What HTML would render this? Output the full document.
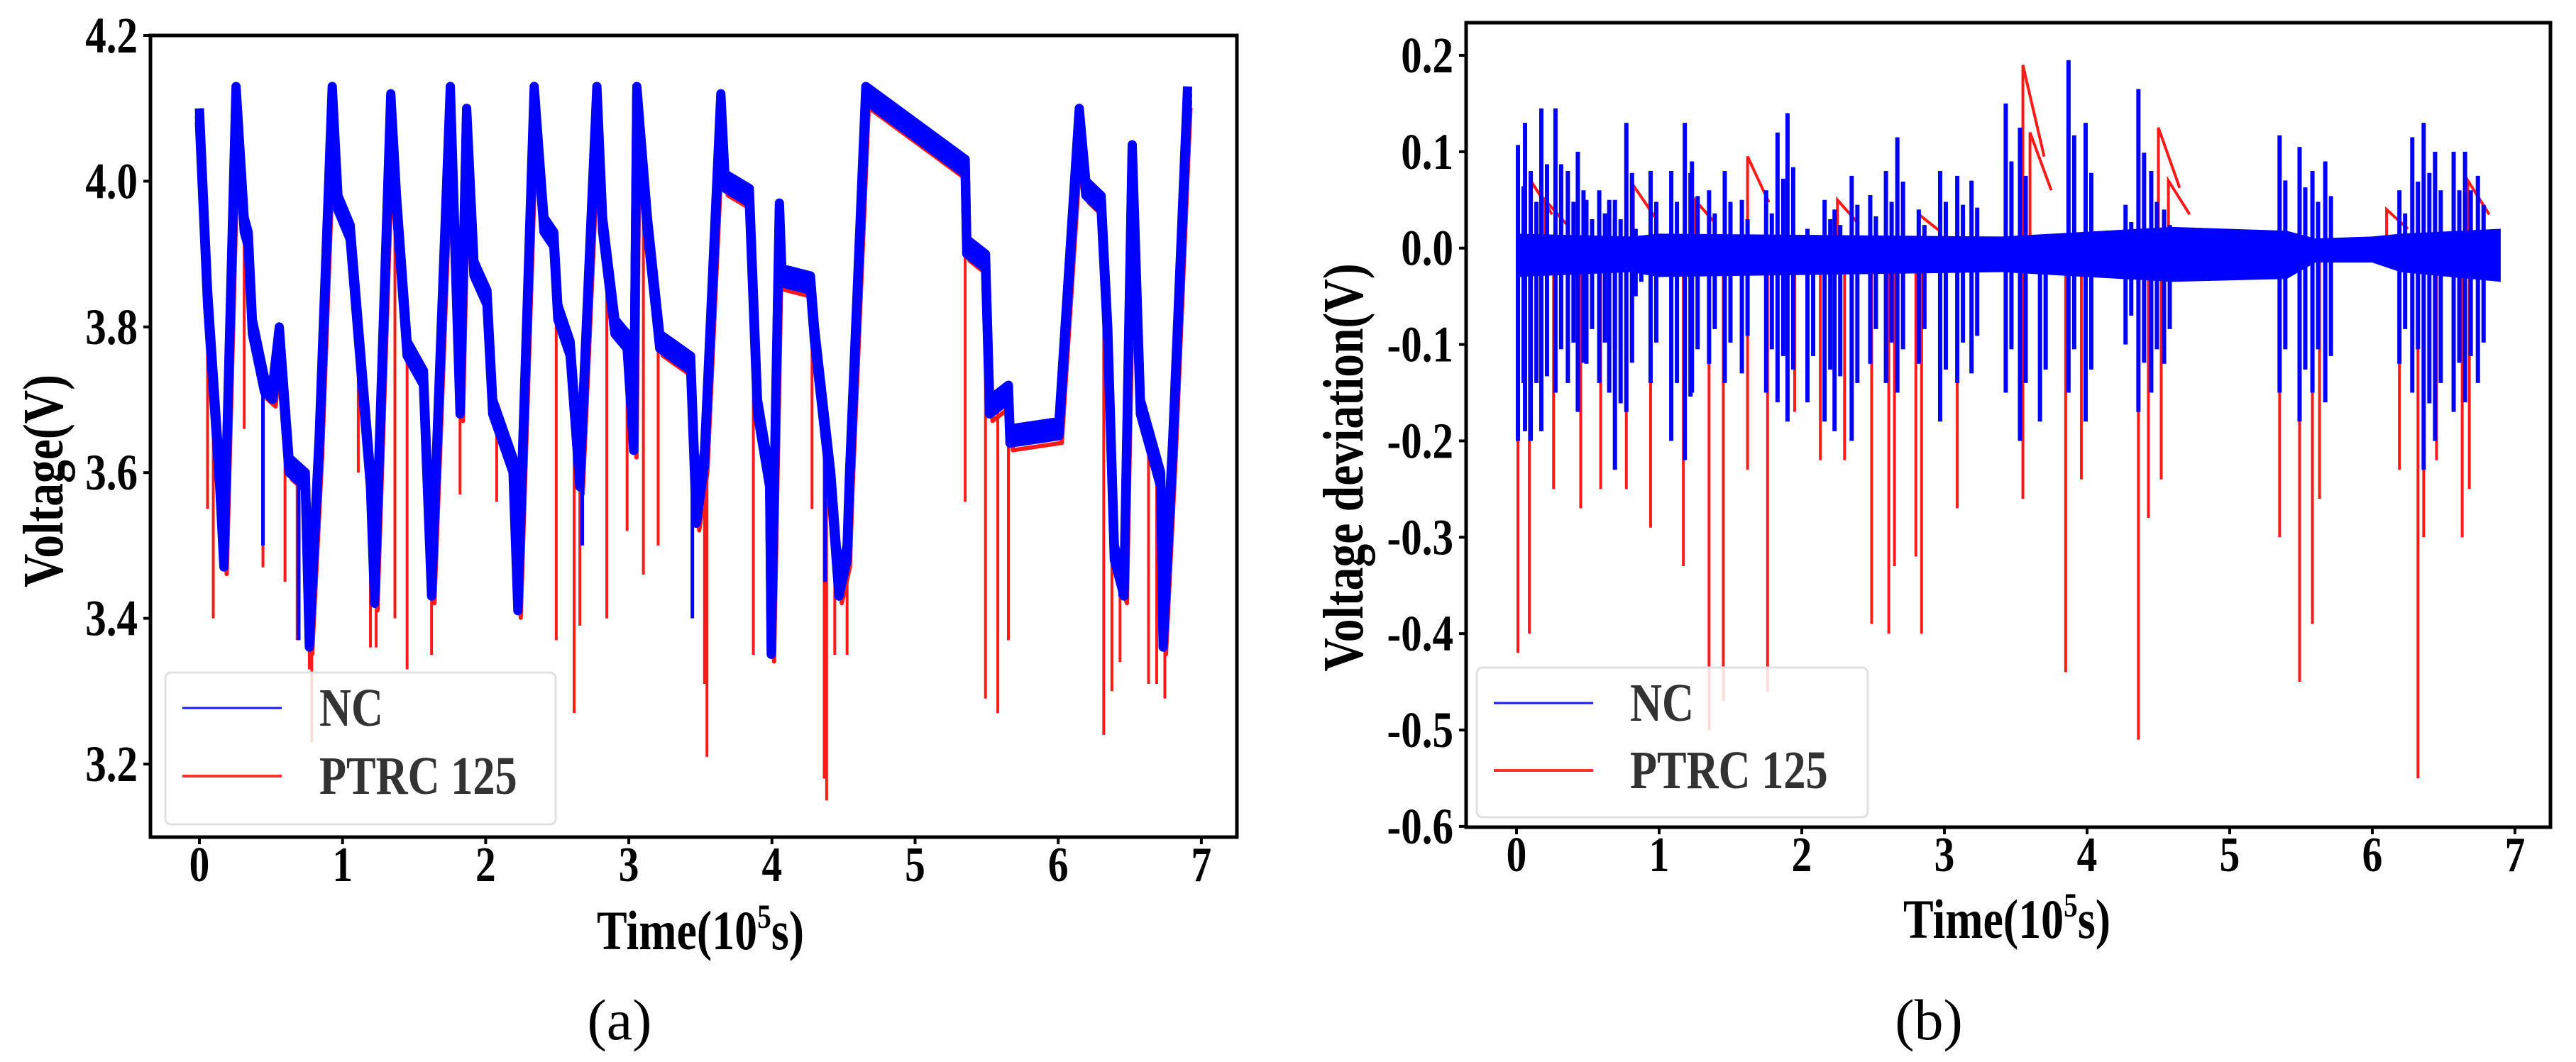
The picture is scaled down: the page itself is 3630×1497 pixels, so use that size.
<!DOCTYPE html>
<html><head><meta charset="utf-8"><style>
html,body{margin:0;padding:0;background:#fff;}
svg{display:block;}
</style></head><body>
<svg id="fig" width="3630" height="1497" viewBox="0 0 3630 1497" xmlns="http://www.w3.org/2000/svg">
<g id="chartA"></g>
<g id="chartB"></g>
</svg>
<script>
// ---- Chart (a) data ----
const ncTimeA = [0,0.057,0.142,0.171,0.256,0.313,0.341,0.37,0.455,0.512,0.558,0.626,0.74,0.768,0.837,0.928,0.968,1.053,1.195,1.224,1.337,1.377,1.451,1.565,1.622,1.753,1.821,1.867,1.918,2.009,2.049,2.191,2.225,2.339,2.407,2.476,2.504,2.59,2.658,2.777,2.817,2.903,2.988,3.034,3.056,3.13,3.216,3.432,3.472,3.529,3.643,3.671,3.842,3.899,3.984,3.995,4.052,4.069,4.269,4.297,4.411,4.468,4.525,4.542,4.656,5.35,5.361,5.492,5.521,5.652,5.663,6.005,6.147,6.193,6.3,6.346,6.392,6.46,6.517,6.574,6.716,6.733,6.801,6.904];
const ncVoltA = [4.10,3.85,3.60,3.49,4.13,3.95,3.93,3.81,3.73,3.72,3.80,3.62,3.60,3.38,3.65,4.13,3.98,3.94,3.60,3.44,4.12,3.98,3.78,3.74,3.45,4.13,3.70,4.10,3.89,3.85,3.70,3.62,3.43,4.13,3.95,3.93,3.83,3.78,3.60,4.13,3.95,3.81,3.79,3.65,4.13,3.95,3.79,3.76,3.55,3.63,4.12,4.01,3.99,3.70,3.60,3.37,3.97,3.88,3.87,3.80,3.60,3.45,3.50,3.60,4.13,4.03,3.92,3.90,3.70,3.72,3.66,3.67,4.10,4.00,3.98,3.80,3.50,3.45,4.05,3.70,3.60,3.38,3.65,4.13];
const redSpikeTimeA = [0.057,0.097,0.313,0.444,0.598,0.683,0.768,0.785,1.11,1.195,1.235,1.366,1.451,1.622,1.821,2.077,2.191,2.493,2.618,2.658,2.846,2.988,3.102,3.205,3.444,3.529,3.546,3.87,4.0,4.28,4.365,4.382,4.439,4.525,5.35,5.492,5.578,5.652,6.318,6.375,6.432,6.631,6.688,6.745];
const redSpikeLowA = [3.55,3.40,3.66,3.47,3.45,3.37,3.33,3.23,3.60,3.36,3.36,3.40,3.33,3.35,3.57,3.56,3.50,3.37,3.27,3.39,3.40,3.52,3.46,3.50,3.45,3.31,3.21,3.35,3.37,3.55,3.18,3.15,3.35,3.35,3.56,3.29,3.27,3.37,3.24,3.30,3.34,3.31,3.31,3.29];
const blueSpikeTimeA = [0.171,0.444,0.694,0.768,1.224,1.611,2.231,2.675,3.444,3.995,4.371,6.432,6.716];
const blueSpikeLowA = [3.49,3.50,3.37,3.37,3.45,3.47,3.43,3.50,3.40,3.37,3.45,3.43,3.38];
const yTicksA = [3.2,3.4,3.6,3.8,4.0,4.2];
const yTickLabelsA = ["3.2","3.4","3.6","3.8","4.0","4.2"];
const xTicks = [0,1,2,3,4,5,6,7];
const xTickLabels = ["0","1","2","3","4","5","6","7"];

// ---- Chart (b) data ----
const bandTimeB = [0,0.8,1.0,3.4,4.6,5.4,5.6,6.0,6.2,6.9];
const bandHiB = [0.015,0.012,0.015,0.012,0.022,0.018,0.01,0.012,0.015,0.02];
const bandLoB = [-0.03,-0.025,-0.03,-0.025,-0.035,-0.032,-0.015,-0.015,-0.025,-0.035];
const blueSpikeTimeB = [0.01,0.06,0.1,0.174,0.273,0.36,0.43,0.49,0.58,0.65,0.69,0.77,0.835,0.94,1.085,1.18,1.23,1.35,1.46,1.58,1.75,1.83,1.9,2.04,2.16,2.23,2.35,2.48,2.59,2.67,2.82,2.97,3.09,3.19,3.43,3.53,3.67,3.87,3.99,4.27,4.36,4.45,4.54,5.35,5.49,5.58,5.67,6.19,6.28,6.36,6.44,6.57,6.65,6.74];
const blueSpikeHiB = [0.107,0.13,0.08,0.145,0.145,0.08,0.1,0.05,0.06,0.05,0.05,0.13,0.02,0.08,0.08,0.13,0.09,0.06,0.08,0.05,0.06,0.12,0.14,0.02,0.05,0.04,0.075,0.055,0.08,0.115,0.04,0.08,0.075,0.07,0.15,0.125,0.01,0.195,0.13,0.045,0.165,0.08,0.04,0.117,0.105,0.08,0.09,0.06,0.115,0.13,0.1,0.1,0.1,0.075];
const blueSpikeLoB = [-0.2,-0.19,-0.2,-0.19,-0.15,-0.14,-0.17,-0.12,-0.14,-0.15,-0.23,-0.17,-0.05,-0.14,-0.2,-0.22,-0.15,-0.12,-0.14,-0.13,-0.15,-0.16,-0.18,-0.16,-0.18,-0.19,-0.2,-0.12,-0.14,-0.15,-0.12,-0.18,-0.14,-0.13,-0.15,-0.2,-0.18,-0.15,-0.18,-0.1,-0.17,-0.15,-0.12,-0.15,-0.18,-0.15,-0.16,-0.12,-0.15,-0.23,-0.2,-0.17,-0.16,-0.14];
const redSpikeTimeB = [0.01,0.09,0.26,0.45,0.59,0.77,0.94,1.17,1.35,1.45,1.62,1.76,1.95,2.13,2.3,2.49,2.61,2.65,2.8,2.84,3.09,3.55,3.85,3.96,4.36,4.43,4.52,5.35,5.49,5.58,5.63,6.19,6.32,6.36,6.45,6.63,6.68];
const redSpikeLowB = [-0.42,-0.40,-0.25,-0.27,-0.25,-0.25,-0.29,-0.33,-0.5,-0.47,-0.23,-0.46,-0.17,-0.22,-0.22,-0.39,-0.40,-0.33,-0.32,-0.40,-0.27,-0.26,-0.44,-0.24,-0.51,-0.28,-0.24,-0.30,-0.45,-0.39,-0.26,-0.23,-0.55,-0.30,-0.22,-0.30,-0.25];
const redHumpTimeB = [0.1,0.2,0.82,1.25,1.62,2.25,2.82,3.55,3.6,4.5,4.57,6.1,6.67];
const redHumpHiB = [0.07,0.05,0.065,0.05,0.095,0.05,0.035,0.19,0.12,0.125,0.07,0.04,0.07];
const yTicksB = [-0.6,-0.5,-0.4,-0.3,-0.2,-0.1,0.0,0.1,0.2];
const yTickLabelsB = ["-0.6","-0.5","-0.4","-0.3","-0.2","-0.1","0.0","0.1","0.2"];

const NS = "http://www.w3.org/2000/svg";
function mk(parent, tag, attrs, text){
  const e = document.createElementNS(NS, tag);
  for (const k in attrs) e.setAttribute(k, attrs[k]);
  if (text !== undefined) e.textContent = text;
  parent.appendChild(e);
  return e;
}
function interp(ts, vs, t){
  if (t <= ts[0]) return vs[0];
  for (let i = 1; i < ts.length; i++){
    if (t <= ts[i]) { const f = (t - ts[i-1]) / (ts[i] - ts[i-1]); return vs[i-1] + f * (vs[i] - vs[i-1]); }
  }
  return vs[vs.length - 1];
}
const FONT = '"Liberation Serif", "DejaVu Serif", serif';

function axisText(parent, x, y, str, size, anchor, weight, rot, fill){
  return mk(parent, "text", {
    transform: "translate(" + x + "," + y + ")" + (rot ? " rotate(" + rot + ")" : "") + " scale(0.82,1)",
    x: 0, y: 0, "font-family": FONT, "font-size": size, "font-weight": weight || "bold",
    "text-anchor": anchor, fill: fill || "#000"
  }, str);
}

function buildChart(g, cfg){
  const {left, bottom, xScale, yScale} = cfg;
  xTicks.forEach((v, i) => {
    const x = xScale(v);
    const tk = mk(g, "line", {x1: x, x2: x, y1: bottom, y2: bottom + 10, stroke: "#000", "stroke-width": 4});
    
    
    const lb = axisText(g, x, bottom + 62, xTickLabels[i], 70, "middle");
    
    
  });
  cfg.yTicks.forEach((v, i) => {
    const y = yScale(v);
    const tk = mk(g, "line", {x1: left - 10, x2: left, y1: y, y2: y, stroke: "#000", "stroke-width": 4});
    
    
    const lb = axisText(g, left - 18, y + 24, cfg.yLabels[i], 72, "end");
    
    
  });
}

function legend(g, x, y, w, h, lineY1, lineY2, lx1, lx2, tx){
  const box = mk(g, "rect", {x: x, y: y, width: w, height: h, rx: 8, fill: "#fff", "fill-opacity": 0.85, stroke: "#e0e0e0", "stroke-width": 3});
  
  
  const l1 = mk(g, "line", {x1: lx1, x2: lx2, y1: lineY1, y2: lineY1, stroke: "#1a1aff", "stroke-width": 3});
  
  
  const t1 = axisText(g, tx, lineY1 + 25, "NC", 76, "start", "bold", 0, "#333");
  
  
  const l2 = mk(g, "line", {x1: lx1, x2: lx2, y1: lineY2, y2: lineY2, stroke: "#ff3030", "stroke-width": 4});
  
  
  const t2 = axisText(g, tx, lineY2 + 25, "PTRC 125", 76, "start", "bold", 0, "#333");
  
  
}

function timeLabel(g, cx, baseline){
  const t = mk(g, "text", {transform: "translate(" + cx + "," + baseline + ") scale(0.82,1)", x: 0, y: 0,
    "font-family": FONT, "font-size": 78, "font-weight": "bold", "text-anchor": "middle"});
  mk(t, "tspan", {}, "Time(10");
  mk(t, "tspan", {dy: -30, "font-size": 48}, "5");
  mk(t, "tspan", {dy: 30}, "s)");
  return t;
}

// ===== Chart A =====
(function(){
  const g = document.getElementById("chartA");
  const left = 212, right = 1743, top = 50, bottom = 1180;
  const xScale = t => 281 + t * 201.7;
  const yScale = v => 50 + (4.2 - v) * 1027;
  const clip = mk(g, "clipPath", {id: "clipA"});
  mk(clip, "rect", {x: left, y: top, width: right - left, height: bottom - top});
  const plot = mk(g, "g", {"clip-path": "url(#clipA)"});
  
  

  redSpikeTimeA.forEach((t, i) => {
    const x = xScale(t);
    const s = mk(plot, "line", {x1: x, x2: x, y1: yScale(interp(ncTimeA, ncVoltA, t)), y2: yScale(redSpikeLowA[i]), stroke: "#ff1a1a", "stroke-width": 4});
    
    
  });
  const ptsR = ncTimeA.map((t, i) => (xScale(t) + 4) + "," + (yScale(ncVoltA[i]) + 30)).join(" ");
  const rl = mk(plot, "polyline", {points: ptsR, fill: "none", stroke: "#ff1a1a", "stroke-width": 6, "stroke-linejoin": "round"});
  
  

  // NC band: several stacked copies make a dense band
  [0, 10, 20].forEach(off => {
    const pts = ncTimeA.map((t, i) => xScale(t) + "," + (yScale(ncVoltA[i]) + off)).join(" ");
    const b = mk(plot, "polyline", {points: pts, fill: "none", stroke: "#0000ff", "stroke-width": 13, "stroke-linejoin": "round"});
    
    
  });
  blueSpikeTimeA.forEach((t, i) => {
    const x = xScale(t);
    const s = mk(plot, "line", {x1: x, x2: x, y1: yScale(interp(ncTimeA, ncVoltA, t)), y2: yScale(blueSpikeLowA[i]), stroke: "#0000ff", "stroke-width": 5});
    
    
  });

  const fr = mk(g, "rect", {x: left, y: top, width: right - left, height: bottom - top, fill: "none", stroke: "#000", "stroke-width": 5});
  
  
  buildChart(g, {left, bottom, xScale, yScale, yTicks: yTicksA, yLabels: yTickLabelsA});
  legend(g, 233, 948, 550, 214, 998, 1094, 257, 397, 450);
  const yl = axisText(g, 88, 678, "Voltage(V)", 80, "middle", "bold", -90);
  
  
  const xl = timeLabel(g, 987, 1338);
  
  
  const cap = mk(g, "text", {x: 873, y: 1465, "font-family": FONT, "font-size": 82, "text-anchor": "middle"}, "(a)");
  
  
})();

// ===== Chart B =====
(function(){
  const g = document.getElementById("chartB");
  const left = 2066, right = 3594, top = 32, bottom = 1166;
  const xScale = t => 2137 + t * 201;
  const yScale = v => 78 + (0.2 - v) * 1358.6;
  const clip = mk(g, "clipPath", {id: "clipB"});
  mk(clip, "rect", {x: left, y: top, width: right - left, height: bottom - top});
  const plot = mk(g, "g", {"clip-path": "url(#clipB)"});
  
  

  redSpikeTimeB.forEach((t, i) => {
    const x = xScale(t);
    const s = mk(plot, "line", {x1: x, x2: x, y1: yScale(0), y2: yScale(redSpikeLowB[i]), stroke: "#ff1a1a", "stroke-width": 4});
    
    
  });
  redHumpTimeB.forEach((t, i) => {
    const x = xScale(t);
    const s = mk(plot, "polyline", {points: x + "," + yScale(0) + " " + x + "," + yScale(redHumpHiB[i]) + " " + (x + 30) + "," + yScale(redHumpHiB[i] * 0.5),
      fill: "none", stroke: "#ff1a1a", "stroke-width": 4});
    
    
  });
  const top_ = bandTimeB.map((t, i) => xScale(t) + "," + yScale(bandHiB[i]));
  const bot_ = bandTimeB.map((t, i) => xScale(t) + "," + yScale(bandLoB[i])).reverse();
  const band = mk(plot, "polygon", {points: top_.concat(bot_).join(" "), fill: "#0000ff"});
  
  
  blueSpikeTimeB.forEach((t, i) => {
    const x = xScale(t);
    const s = mk(plot, "line", {x1: x, x2: x, y1: yScale(blueSpikeHiB[i]), y2: yScale(blueSpikeLoB[i]), stroke: "#0000ff", "stroke-width": 6});
    
    
    const s2 = mk(plot, "line", {x1: x + 8, x2: x + 8, y1: yScale(blueSpikeHiB[i] * 0.6), y2: yScale(blueSpikeLoB[i] * 0.7), stroke: "#0000ff", "stroke-width": 6});
    
    
  });

  const fr = mk(g, "rect", {x: left, y: top, width: right - left, height: bottom - top, fill: "none", stroke: "#000", "stroke-width": 5});
  
  
  buildChart(g, {left, bottom, xScale, yScale, yTicks: yTicksB, yLabels: yTickLabelsB});
  legend(g, 2081, 941, 551, 211, 991, 1086, 2105, 2245, 2297);
  const yl = axisText(g, 1920, 659, "Voltage deviation(V)", 80, "middle", "bold", -90);
  
  
  const xl = timeLabel(g, 2828, 1322);
  
  
  const cap = mk(g, "text", {x: 2718, y: 1465, "font-family": FONT, "font-size": 82, "text-anchor": "middle"}, "(b)");
  
  
})();
</script>
</body></html>
